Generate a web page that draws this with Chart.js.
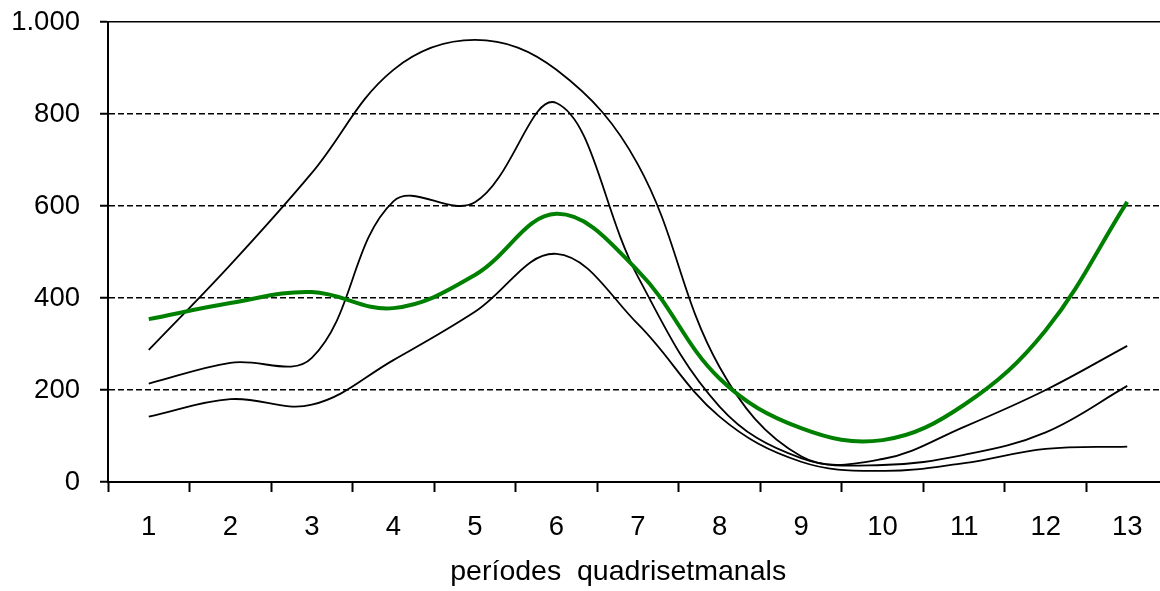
<!DOCTYPE html>
<html>
<head>
<meta charset="utf-8">
<script src="https://cdn.jsdelivr.net/npm/chart.js@4.4.1/dist/chart.umd.min.js"></script>
<style>
  html, body { margin: 0; padding: 0; background: #fff; overflow: hidden; }
  #wrap { width: 1168px; height: 591px; }
</style>
</head>
<body>
<div id="wrap"><canvas id="grafic"></canvas></div>
<script>
// periodes (eix X)
const periodes = ['1', '2', '3', '4', '5', '6', '7', '8', '9', '10', '11', '12', '13'];

// línia verda (gruixuda)
const serieVerda = [354, 389, 413, 378, 450, 583, 459, 225, 117, 91, 168, 330, 609];
// línies negres
const serieAlta = [287, 472, 672, 896, 961, 896, 690, 250, 56, 50, 120, 200, 296];
const serieMitjana = [214, 259, 270, 610, 608, 824, 446, 164, 52, 37, 59, 108, 209];
const serieBaixa = [142, 180, 168, 265, 370, 496, 343, 142, 44, 24, 41, 72, 77];

// etiquetes de l'eix Y
const etiquetesY = ['0', '200', '400', '600', '800', '1.000'];

const font = "'Liberation Sans', Arial, sans-serif";

document.addEventListener('DOMContentLoaded', function() {
    const ctx = document.getElementById('grafic');
    new Chart(ctx, {
        type: 'line',
        data: {
            labels: periodes,
            datasets: [
                { data: serieVerda, borderColor: '#008000', borderWidth: 4 },
                { data: serieAlta, borderColor: '#000', borderWidth: 1.8 },
                { data: serieMitjana, borderColor: '#000', borderWidth: 1.8 },
                { data: serieBaixa, borderColor: '#000', borderWidth: 1.8 }
            ]
        },
        options: {
            responsive: true,
            maintainAspectRatio: false,
            animation: false,
            events: [],
            layout: { padding: 0 },
            elements: {
                point: { radius: 0 },
                line: { tension: 0.38, fill: false }
            },
            plugins: { legend: { display: false }, tooltip: { enabled: false } },
            scales: {
                x: {
                    type: 'category',
                    position: 'bottom',
                    offset: true,
                    grid: {
                        offset: true,
                        drawOnChartArea: false,
                        drawTicks: true,
                        tickLength: 10,
                        tickWidth: 2,
                        tickColor: '#000'
                    },
                    border: { color: '#000', width: 2 },
                    ticks: {
                        color: '#000',
                        padding: 19,
                        maxRotation: 0,
                        font: { family: font, size: 27.5 }
                    },
                    title: {
                        display: true,
                        text: 'períodes  quadrisetmanals     ',
                        color: '#000',
                        font: { family: font, size: 28.5 },
                        padding: { top: 0, bottom: 2 }
                    },
                    afterFit: function(scale) { scale.height = 109; }
                },
                x2: {
                    type: 'category',
                    position: 'top',
                    offset: true,
                    grid: { display: false, drawTicks: false },
                    ticks: { display: false },
                    border: { color: '#000', width: 1.5 },
                    afterFit: function(scale) { scale.height = 22; }
                },
                y: {
                    min: 0,
                    max: 1000,
                    ticks: {
                        stepSize: 200,
                        color: '#000',
                        padding: 20,
                        font: { family: font, size: 27.5 },
                        callback: function(value, i) { return etiquetesY[i]; }
                    },
                    grid: {
                        color: function(c) {
                            const v = c.tick ? c.tick.value : 0;
                            return (v === 0 || v === 1000) ? 'rgba(0,0,0,0)' : '#000';
                        },
                        lineWidth: 1.5,
                        drawTicks: true,
                        tickLength: 8,
                        tickWidth: 2,
                        tickColor: '#000'
                    },
                    border: { color: '#000', width: 2, dash: [6, 3] },
                    afterFit: function(scale) {
                        scale.width = 108;
                        scale.paddingTop = 0;
                        scale.paddingBottom = 0;
                    }
                }
            }
        }
    });
});
</script>
</body>
</html>
